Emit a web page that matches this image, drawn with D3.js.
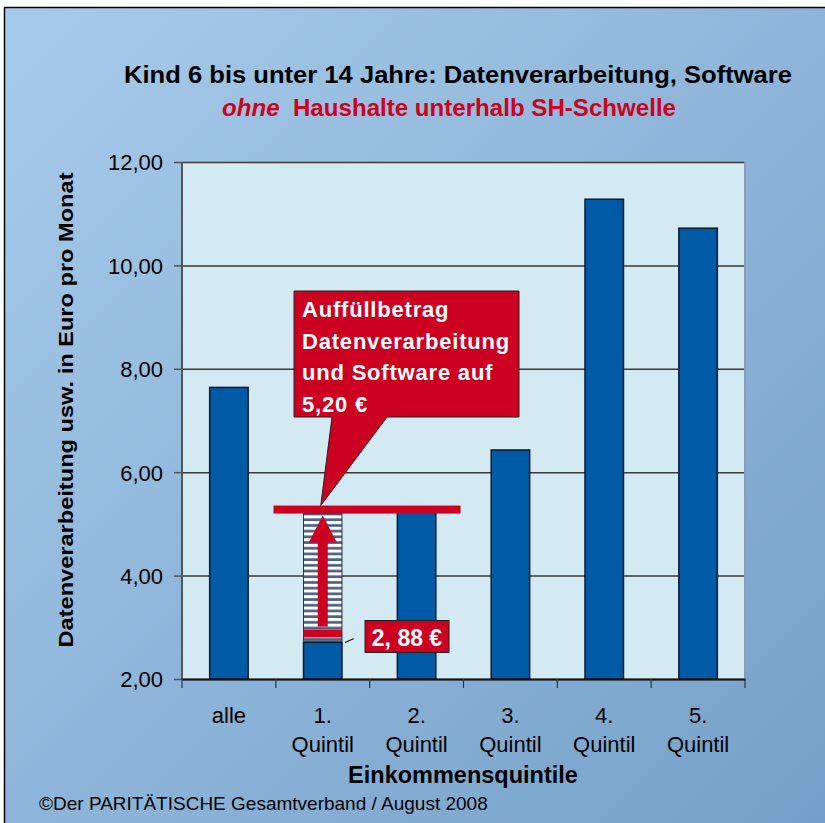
<!DOCTYPE html>
<html>
<head>
<meta charset="utf-8">
<script src="https://cdn.jsdelivr.net/npm/d3@7"></script>
<style>
	html,body{margin:0;padding:0;background:#fff;}
	svg{display:block;}
	.narrow{font-family:"Liberation Sans Narrow","Arial Narrow","Liberation Sans",Arial,sans-serif;}
	.sans{font-family:"Liberation Sans",Arial,sans-serif;}
</style>
</head>
<body>
<div id="chart"></div>
<script>
// data
const categories = ['alle','1. Quintil','2. Quintil','3. Quintil','4. Quintil','5. Quintil'];
const values = [7.64, 2.71, 5.25, 6.43, 11.28, 10.72];
const yTicks = [2,4,6,8,10,12];
const fillTarget = 5.20;   // Auffüllbetrag
const quintil1Value = 2.88;

const width = 825;
const height = 823;
const margin = {t:162,r:80,b:144,l:182};
const w = width - margin.l - margin.r;
const h = height - margin.t - margin.b;

const svg = d3.select('#chart').append('svg')
	.attr('width',width)
	.attr('height',height);

const defs = svg.append('defs');
const grad = defs.append('linearGradient')
	.attr('id','bg')
	.attr('x1','0%').attr('y1','0%')
	.attr('x2','100%').attr('y2','100%');
grad.append('stop').attr('offset','0%').attr('stop-color','#a7cbea');
grad.append('stop').attr('offset','100%').attr('stop-color','#76a0c9');

// hatching for the gap up to 5,20
const pat = defs.append('pattern')
	.attr('id','hatch')
	.attr('patternUnits','userSpaceOnUse')
	.attr('width',8).attr('height',5.7);
pat.append('rect').attr('width',8).attr('height',5.7).attr('fill','#fff');
pat.append('rect').attr('y',3).attr('width',8).attr('height',2.7).attr('fill','#4d6185');

// background frame
svg.append('rect')
	.attr('x',4).attr('y',7)
	.attr('width',width).attr('height',height)
	.attr('fill','url(#bg)');
svg.append('line').attr('x1',4).attr('x2',width).attr('y1',7.5).attr('y2',7.5)
	.attr('stroke','#000').attr('stroke-width',1.5);
svg.append('line').attr('x1',4.5).attr('x2',4.5).attr('y1',7).attr('y2',height)
	.attr('stroke','#000').attr('stroke-width',1.5);

// titles
svg.append('text').attr('class','sans')
	.attr('x',124).attr('y',83)
	.attr('textLength',668).attr('lengthAdjust','spacingAndGlyphs')
	.style('font-size','23px').style('font-weight','bold')
	.text('Kind 6 bis unter 14 Jahre: Datenverarbeitung, Software');
const sub = svg.append('text').attr('class','sans')
	.attr('x',222).attr('y',116)
	.attr('textLength',454).attr('lengthAdjust','spacingAndGlyphs')
	.style('font-size','23px').style('font-weight','bold')
	.attr('fill','#d0021b');
sub.append('tspan').style('font-style','italic').text('ohne');
sub.append('tspan').text('\u00a0 Haushalte unterhalb SH-Schwelle');

const plot = svg.append('g')
	.attr('transform',`translate(${margin.l},${margin.t})`);

// scales
const scaleX = d3.scaleBand().domain(categories).range([0,w]).paddingInner(0.59).paddingOuter(0.295);
const scaleY = d3.scaleLinear().domain([2,12]).range([h,0]);

plot.append('rect')
	.attr('width',w).attr('height',h)
	.attr('fill','#d3eaf2');

// grid
const axisY = d3.axisLeft(scaleY)
	.tickValues(yTicks)
	.tickSize(-w)
	.tickFormat(d => d3.format('.2f')(d).replace('.',','));
const gy = plot.append('g').attr('class','axis-y').call(axisY);
gy.select('.domain').remove();
gy.selectAll('.tick line').attr('stroke','#3a3a3a').attr('stroke-width',1.5);
gy.selectAll('.tick line').clone().attr('x1',-8).attr('x2',0).attr('stroke','#555');
gy.selectAll('.tick text')
	.attr('class','sans')
	.attr('x',-19).attr('dy','0.36em')
	.style('font-size','22px').attr('fill','#000');

// bars
plot.selectAll('.bar')
	.data(values)
	.enter()
	.append('rect')
	.attr('class','bar')
	.attr('x',(d,i) => scaleX(categories[i]))
	.attr('width',scaleX.bandwidth())
	.attr('y',d => scaleY(d))
	.attr('height',d => h - scaleY(d))
	.attr('fill','#005aa6')
	.attr('stroke','#0a1a2a')
	.attr('stroke-width',1.5);

// hatched gap on 1. Quintil
const q1 = categories[1];
plot.append('rect')
	.attr('x',scaleX(q1))
	.attr('width',scaleX.bandwidth())
	.attr('y',scaleY(fillTarget))
	.attr('height',scaleY(values[1]) - scaleY(fillTarget) - 1)
	.attr('fill','url(#hatch)')
	.attr('stroke','#333').attr('stroke-width',1);

// axis lines
plot.append('line').attr('x1',0).attr('x2',0).attr('y1',0).attr('y2',h)
	.attr('stroke','#555').attr('stroke-width',2);
plot.append('line').attr('x1',w).attr('x2',w).attr('y1',0).attr('y2',h)
	.attr('stroke','#8aa0b0').attr('stroke-width',2);

const axisX = d3.axisBottom(scaleX).tickSize(0).tickFormat('');
const gx = plot.append('g').attr('transform',`translate(0,${h})`).call(axisX);
gx.select('.domain').attr('stroke','#111').attr('stroke-width',2);
// ticks between categories
const step = scaleX.step();
plot.selectAll('.xtick')
	.data(d3.range(categories.length + 1))
	.enter()
	.append('line')
	.attr('x1',d => d*step).attr('x2',d => d*step)
	.attr('y1',h).attr('y2',h + 9)
	.attr('stroke','#333').attr('stroke-width',1.2);

// category labels
const catLabels = plot.selectAll('.cat')
	.data(categories)
	.enter()
	.append('text')
	.attr('class','narrow')
	.attr('text-anchor','middle')
	.attr('x',d => scaleX(d) + scaleX.bandwidth()/2)
	.attr('y',h + 44)
	.style('font-size','22px');
catLabels.each(function(d){
	const parts = d.split(' ');
	const t = d3.select(this);
	parts.forEach((p,k) => {
		t.append('tspan')
			.attr('x',scaleX(d) + scaleX.bandwidth()/2)
			.attr('dy',k === 0 ? 0 : 29)
			.text(p);
	});
});

// x title
svg.append('text').attr('class','narrow')
	.attr('x',463).attr('y',783)
	.attr('text-anchor','middle')
	.style('font-size','23.5px').style('font-weight','bold')
	.text('Einkommensquintile');

// y title
svg.append('text').attr('class','sans')
	.attr('transform','translate(73,410.5) rotate(-90)')
	.attr('x',-237).attr('textLength',475).attr('lengthAdjust','spacingAndGlyphs')
	.style('font-size','21px').style('font-weight','bold')
	.text('Datenverarbeitung usw. in Euro pro Monat');

// footer
svg.append('text').attr('class','narrow')
	.attr('x',39).attr('y',810)
	.style('font-size','19px')
	.text('©Der PARITÄTISCHE Gesamtverband / August 2008');

// annotation: 5,20 line
const red = '#cc0020';
const cx = scaleX(q1) + scaleX.bandwidth()/2;
plot.append('rect')
	.attr('x',scaleX(q1) - 30)
	.attr('width',187)
	.attr('y',scaleY(fillTarget) - 8)
	.attr('height',8)
	.attr('fill',red);

// 2,88 marker line
plot.append('rect')
	.attr('x',scaleX(q1))
	.attr('width',scaleX.bandwidth())
	.attr('y',scaleY(quintil1Value) - 4)
	.attr('height',8)
	.attr('fill',red);

// arrow up
const arrowTop = scaleY(fillTarget) + 2;
const arrowBot = scaleY(quintil1Value) - 7;
plot.append('rect')
	.attr('x',cx - 5).attr('width',10)
	.attr('y',arrowTop + 26).attr('height',arrowBot - arrowTop - 26)
	.attr('fill',red);
plot.append('path')
	.attr('d',`M${cx},${arrowTop} L${cx+14},${arrowTop+27} L${cx-14},${arrowTop+27} Z`)
	.attr('fill',red);

// label 2,88 €
const lbX = 183, lbY = scaleY(quintil1Value) - 13;
plot.append('line')
	.attr('x1',scaleX(q1) + scaleX.bandwidth() + 3).attr('y1',scaleY(quintil1Value) + 9)
	.attr('x2',scaleX(q1) + scaleX.bandwidth() + 12).attr('y2',scaleY(quintil1Value) + 5)
	.attr('stroke','#111').attr('stroke-width',1.2);
plot.append('rect')
	.attr('x',lbX).attr('y',lbY)
	.attr('width',84).attr('height',32)
	.attr('fill',red).attr('stroke','#222').attr('stroke-width',1);
plot.append('text').attr('class','sans')
	.attr('x',lbX + 42).attr('y',lbY + 25)
	.attr('text-anchor','middle')
	.attr('fill','#fff')
	.style('font-size','23px').style('font-weight','bold')
	.text('2, 88 €');

// callout
const tipX = cx - 2, tipY = scaleY(fillTarget) - 8;
const bx0 = 112, by0 = 129, bx1 = 337, by1 = 255;
plot.append('path')
	.attr('d',`M${bx0},${by0} L${bx1},${by0} L${bx1},${by1} L${205},${by1} L${tipX},${tipY} L${150},${by1} L${bx0},${by1} Z`)
	.attr('fill',red)
	.attr('stroke','#222').attr('stroke-width',1);
const callout = ['Auffüllbetrag','Datenverarbeitung','und Software auf','5,20 €'];
plot.selectAll('.callout')
	.data(callout)
	.enter()
	.append('text')
	.attr('class','sans')
	.attr('x',bx0 + 8)
	.attr('y',(d,i) => by0 + 26 + i*31.5)
	.attr('fill','#fff')
	.style('font-size','22px').style('font-weight','bold')
	.style('letter-spacing','0.8px')
	.text(d => d);
</script>
</body>
</html>
